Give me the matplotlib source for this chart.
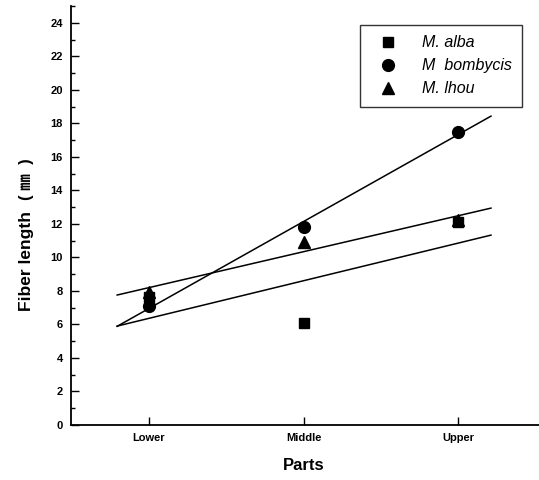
import matplotlib
matplotlib.use("Agg")
import matplotlib.pyplot as plt
import numpy as np
from matplotlib.ticker import MultipleLocator

parts = ["Lower", "Middle", "Upper"]
species = ["M. alba", "M  bombycis", "M. lhou"]
alba = [7.6, 6.1, 12.1]
bombycis = [7.1, 11.8, 17.5]
lhou = [7.9, 10.9, 12.2]
markers = ["s", "o", "^"]

plt.rcParams['font.family'] = ['Liberation Sans', 'Noto Sans CJK SC']

fig = plt.figure(figsize=(5.39, 4.8), dpi=100)
ax = fig.add_axes([0.132, 0.115, 0.868, 0.8725])

x = np.arange(1, len(parts) + 1)
xfit = np.array([0.797, 3.21])
for name, vals, m in zip(species, [alba, bombycis, lhou], markers):
    ms = 7 if m == "s" else 8.5
    ax.plot(x, vals, linestyle='none', marker=m, color='black', ms=ms, label=name)
    k, b = np.polyfit(x, vals, 1)
    ax.plot(xfit, k * xfit + b, color='black', lw=1.1)

ax.set_xlim(0.5, 3.52)
ax.set_ylim(0, 25)
ax.set_xticks(x)
ax.set_xticklabels(parts, fontsize=8, fontweight='bold')
ax.yaxis.set_major_locator(MultipleLocator(2))
ax.yaxis.set_minor_locator(MultipleLocator(1))
ax.set_yticks(np.arange(0, 25, 2))
for lab in ax.get_yticklabels():
    lab.set_fontsize(8)
    lab.set_fontweight('bold')
ax.tick_params(axis='both', which='major', direction='in', length=6, width=1, pad=6)
ax.tick_params(axis='y', which='minor', direction='in', length=3, width=1)
ax.tick_params(axis='x', which='minor', length=0)
for s in ['top', 'right']:
    ax.spines[s].set_visible(False)
for s in ['left', 'bottom']:
    ax.spines[s].set_linewidth(1.3)

fig.text(0.05, 1 - 261 / 480, "Fiber length", rotation=90, ha='center', va='center',
         fontsize=12.5, fontweight='bold')
fig.text(0.05, 1 - 179 / 480, "( ㎜  )", rotation=90, ha='center', va='center',
         fontsize=12, fontweight='bold')
fig.text(304 / 539, 1 - 466 / 480, "Parts", ha='center', va='center',
         fontsize=12, fontweight='bold')

leg = ax.legend(loc='upper right', bbox_to_anchor=(522 / 539, 1 - 25 / 480),
                bbox_transform=fig.transFigure, borderaxespad=0,
                frameon=True, fancybox=False, edgecolor='black',
                prop={'style': 'italic', 'size': 11.5},
                handlelength=2.2, handletextpad=1.0, borderpad=0.65,
                labelspacing=0.5)
leg.get_frame().set_linewidth(1.0)

fig.savefig("out.png", dpi=100)
